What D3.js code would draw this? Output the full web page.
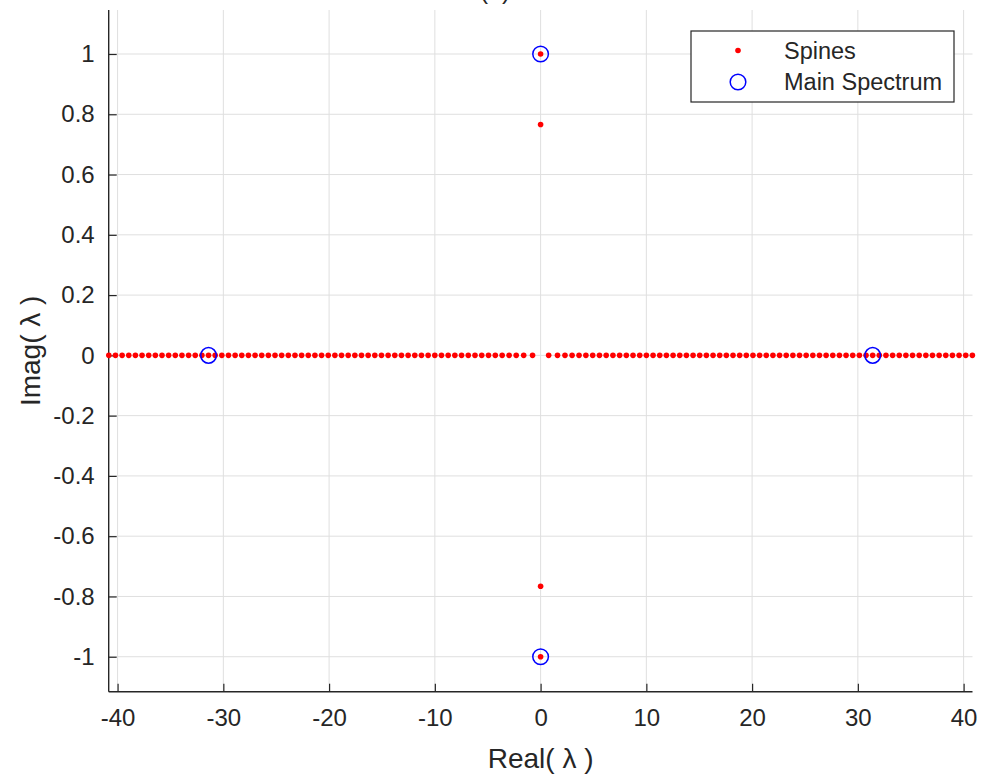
<!DOCTYPE html>
<html>
<head>
<meta charset="utf-8">
<script src="https://cdn.jsdelivr.net/npm/d3@7"></script>
<style>
  body { margin: 0; background: #ffffff; }
  text { font-family: "Liberation Sans", Arial, Helvetica, sans-serif; fill: #262626; }
</style>
</head>
<body>
<svg id="chart" width="984" height="778"></svg>
<script>
// Spine eigenvalues lying on the real axis (negative and positive branches)
const spineRealNeg = [-40.828, -40.200, -39.571, -38.943, -38.314, -37.686, -37.057, -36.429,
  -35.800, -35.172, -34.543, -33.914, -33.286, -32.657, -32.029, -31.400, -30.771, -30.143,
  -29.514, -28.885, -28.257, -27.628, -26.999, -26.370, -25.742, -25.113, -24.484, -23.855,
  -23.226, -22.597, -21.968, -21.339, -20.710, -20.081, -19.452, -18.823, -18.194, -17.564,
  -16.935, -16.306, -15.676, -15.046, -14.417, -13.787, -13.157, -12.527, -11.896, -11.265,
  -10.635, -10.003, -9.372, -8.739, -8.107, -7.473, -6.839, -6.203, -5.566, -4.926, -4.283,
  -3.635, -2.978, -2.306, -1.598, -0.761];
const spineRealPos = [0.761, 1.598, 2.306, 2.978, 3.635, 4.283, 4.926, 5.566, 6.203, 6.839,
  7.473, 8.107, 8.739, 9.372, 10.003, 10.635, 11.265, 11.896, 12.527, 13.157, 13.787, 14.417,
  15.046, 15.676, 16.306, 16.935, 17.564, 18.194, 18.823, 19.452, 20.081, 20.710, 21.339,
  21.968, 22.597, 23.226, 23.855, 24.484, 25.113, 25.742, 26.370, 26.999, 27.628, 28.257,
  28.885, 29.514, 30.143, 30.771, 31.400, 32.029, 32.657, 33.286, 33.914, 34.543, 35.172,
  35.800, 36.429, 37.057, 37.686, 38.314, 38.943, 39.571, 40.200, 40.828];
// Spine eigenvalues on the imaginary axis
const spineImag = [1, 0.766, -0.766, -1];

// Main spectrum points (real part, imaginary part)
const mainRe = [-31.400, 31.400, 0, 0];
const mainIm = [0, 0, 1, -1];

// Axis tick values
const xTicks = [-40, -30, -20, -10, 0, 10, 20, 30, 40];
const yTicks = [-1, -0.8, -0.6, -0.4, -0.2, 0, 0.2, 0.4, 0.6, 0.8, 1];

const legendLabels = ["Spines", "Main Spectrum"];

const svg = d3.select("#chart");
const plotLeft = 108.7, plotRight = 972.5, plotTop = 10, plotBottom = 691.7;

const x = d3.scaleLinear().domain([-40.84, 40.84]).range([plotLeft, plotRight]);
const y = d3.scaleLinear().domain([-1.116, 1.146]).range([plotBottom, plotTop]);

// plain hyphen for negative tick labels
const fmt = d => String(d);

// grid
const grid = svg.append("g");
grid.selectAll("line.gx").data(xTicks).join("line")
  .attr("class", "gx")
  .attr("x1", d => x(d)).attr("x2", d => x(d))
  .attr("y1", plotTop).attr("y2", plotBottom)
  .attr("stroke", "#dfdfdf").attr("stroke-width", 1);
grid.selectAll("line.gy").data(yTicks).join("line")
  .attr("class", "gy")
  .attr("x1", plotLeft).attr("x2", plotRight)
  .attr("y1", d => y(d)).attr("y2", d => y(d))
  .attr("stroke", "#dfdfdf").attr("stroke-width", 1);

// axes
const xAxis = d3.axisBottom(x).tickValues(xTicks).tickSizeInner(-8).tickSizeOuter(0)
  .tickPadding(17).tickFormat(fmt);
const yAxis = d3.axisLeft(y).tickValues(yTicks).tickSizeInner(-8).tickSizeOuter(0)
  .tickPadding(14).tickFormat(fmt);

const gx = svg.append("g").attr("transform", `translate(0,${plotBottom})`).call(xAxis);
const gy = svg.append("g").attr("transform", `translate(${plotLeft},0)`).call(yAxis);
[gx, gy].forEach(g => {
  g.select(".domain").attr("stroke", "#262626").attr("stroke-width", 1.4);
  g.selectAll(".tick line").attr("stroke", "#262626").attr("stroke-width", 1.2);
  g.selectAll(".tick text").attr("font-size", 24).attr("fill", "#262626")
    .style("font-family", '"Liberation Sans", Arial, sans-serif');
});
gy.select(".domain").attr("d", `M0,${plotTop}V${plotBottom}`);
gx.select(".domain").attr("d", `M${plotLeft},0H${plotRight}`);

// plot layer
const plot = svg.append("g");
const spinePts = spineRealNeg.map(v => [v, 0])
  .concat(spineRealPos.map(v => [v, 0]))
  .concat(spineImag.map(v => [0, v]));
plot.selectAll("circle.spine").data(spinePts).join("circle")
  .attr("class", "spine")
  .attr("cx", d => x(d[0])).attr("cy", d => y(d[1]))
  .attr("r", 2.8).attr("fill", "#ff0000");

plot.selectAll("circle.main").data(mainRe.map((v, i) => [v, mainIm[i]])).join("circle")
  .attr("class", "main")
  .attr("cx", d => x(d[0])).attr("cy", d => y(d[1]))
  .attr("r", 7.8).attr("fill", "none").attr("stroke", "#0000ff").attr("stroke-width", 1.5);

// axis labels
svg.append("text").attr("x", (plotLeft + plotRight) / 2).attr("y", 768)
  .attr("text-anchor", "middle").attr("font-size", 28).text("Real( λ )");
svg.append("text").attr("transform", `translate(40,${(plotTop + plotBottom) / 2}) rotate(-90)`)
  .attr("text-anchor", "middle").attr("font-size", 28).text("Imag( λ )");

// title (sits at the top edge)
svg.append("text").attr("x", 495).attr("y", -1).attr("text-anchor", "middle")
  .attr("font-size", 25).text("(a)");

// legend
const lg = svg.append("g");
lg.append("rect").attr("x", 691).attr("y", 31).attr("width", 263).attr("height", 71)
  .attr("fill", "#ffffff").attr("stroke", "#262626").attr("stroke-width", 1.2);
lg.append("circle").attr("cx", 738).attr("cy", 50.5).attr("r", 2.8).attr("fill", "#ff0000");
lg.append("circle").attr("cx", 738).attr("cy", 82).attr("r", 7.8)
  .attr("fill", "none").attr("stroke", "#0000ff").attr("stroke-width", 1.5);
lg.selectAll("text.lab").data(legendLabels).join("text")
  .attr("class", "lab").attr("x", 784).attr("y", (d, i) => 58.5 + i * 31.5)
  .attr("font-size", 23.5).text(d => d);
</script>
</body>
</html>
